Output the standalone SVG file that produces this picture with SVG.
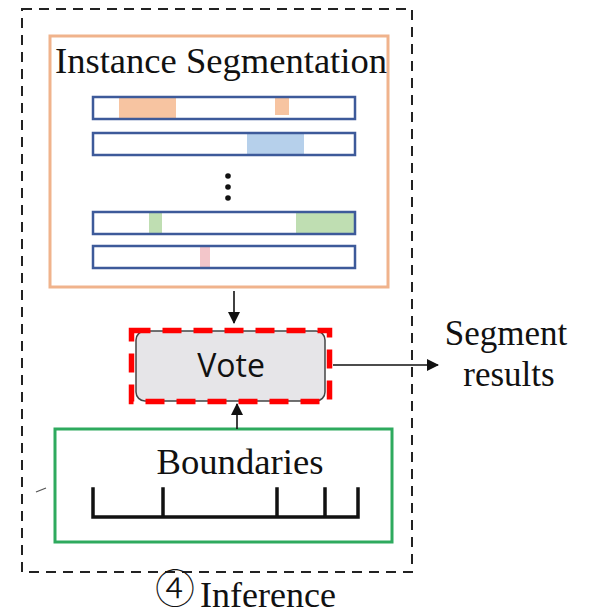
<svg xmlns="http://www.w3.org/2000/svg" width="597" height="615" viewBox="0 0 597 615">
  <style>
    .serif { font-family: "Liberation Serif", "Times New Roman", serif; fill: #111; }
    .sans { font-family: "Open Sans", "Noto Sans", sans-serif; fill: #111; }
    .bar { fill: none; stroke: #3d5a9a; stroke-width: 2.5; }
    .wire { stroke: #111; stroke-width: 1.6; fill: none; }
    .tick { stroke: #111; stroke-width: 3.5; fill: none; stroke-linecap: square; }
  </style>
  <defs>
    <marker id="arrow" viewBox="0 0 12 12" refX="11" refY="6" markerWidth="12" markerHeight="12" markerUnits="userSpaceOnUse" orient="auto">
      <path d="M0,0 L12,6 L0,12 Z" fill="#111"/>
    </marker>
  </defs>
  <rect width="597" height="615" fill="#fff"/>

  <!-- stage frame -->
  <g id="inference-frame">
    <rect x="22" y="9" width="390" height="563" fill="none" stroke="#222" stroke-width="2" stroke-dasharray="10 7"/>
    <text x="155" y="603" font-family="'Noto Sans CJK SC', 'DejaVu Sans', sans-serif" font-size="40" font-weight="300" fill="#111">④</text>
    <text class="serif" x="200" y="607" font-size="36">Inference</text>
  </g>

  <!-- instance segmentation block -->
  <g id="instance-segmentation">
    <rect x="50" y="36" width="338" height="251" fill="none" stroke="#f0b38c" stroke-width="3"/>
    <text class="serif" x="55" y="73" font-size="36" textLength="332" lengthAdjust="spacingAndGlyphs">Instance Segmentation</text>
    <!-- segment fills -->
    <rect x="119" y="98" width="57" height="20" fill="#f7c4a1"/>
    <rect x="275" y="98" width="14" height="17" fill="#f7c4a1"/>
    <rect x="247" y="134" width="57" height="21" fill="#b6d0eb"/>
    <rect x="149" y="213" width="13" height="21" fill="#bfdeb2"/>
    <rect x="296" y="213" width="58" height="21" fill="#bfdeb2"/>
    <rect x="200" y="247" width="10" height="21" fill="#f3c6ca"/>
    <!-- sequence bars -->
    <rect class="bar" x="93" y="97" width="262" height="22"/>
    <rect class="bar" x="93" y="133" width="262" height="22"/>
    <rect class="bar" x="93" y="212" width="262" height="22"/>
    <rect class="bar" x="93" y="246" width="262" height="22"/>
    <circle cx="228" cy="176" r="2.8" fill="#111"/>
    <circle cx="228" cy="187" r="2.8" fill="#111"/>
    <circle cx="228" cy="198" r="2.8" fill="#111"/>
  </g>

  <!-- vote node -->
  <g id="vote">
    <rect x="136" y="331" width="189" height="70" rx="9" fill="#e6e5e8" stroke="#444" stroke-width="1.5"/>
    <rect x="131.5" y="330.5" width="198" height="71" fill="none" stroke="#ff0000" stroke-width="5.5" stroke-dasharray="19 12"/>
    <text class="sans" x="231" y="377" font-size="32" text-anchor="middle">Vote</text>
  </g>

  <!-- boundaries block -->
  <g id="boundaries">
    <rect x="55" y="429" width="337" height="113" fill="none" stroke="#2eaa5e" stroke-width="3"/>
    <text class="serif" x="240" y="474" font-size="36" text-anchor="middle" textLength="167" lengthAdjust="spacingAndGlyphs">Boundaries</text>
    <path class="tick" d="M93,489 V517 H358 V489 M163,489 V517 M277,489 V517 M325,489 V517"/>
  </g>

  <!-- output label -->
  <g id="segment-results">
    <text class="serif" x="506" y="345" font-size="35" text-anchor="middle">Segment</text>
    <text class="serif" x="509" y="386" font-size="35" text-anchor="middle">results</text>
  </g>

  <!-- connectors -->
  <g id="connectors">
    <line class="wire" x1="234" y1="291" x2="234" y2="323" marker-end="url(#arrow)"/>
    <line class="wire" x1="237" y1="429" x2="237" y2="404" marker-end="url(#arrow)"/>
    <line class="wire" x1="333" y1="365" x2="438" y2="365" marker-end="url(#arrow)"/>
    <path d="M36,492 L46,488" stroke="#555" stroke-width="1.2" fill="none"/>
  </g>
</svg>
